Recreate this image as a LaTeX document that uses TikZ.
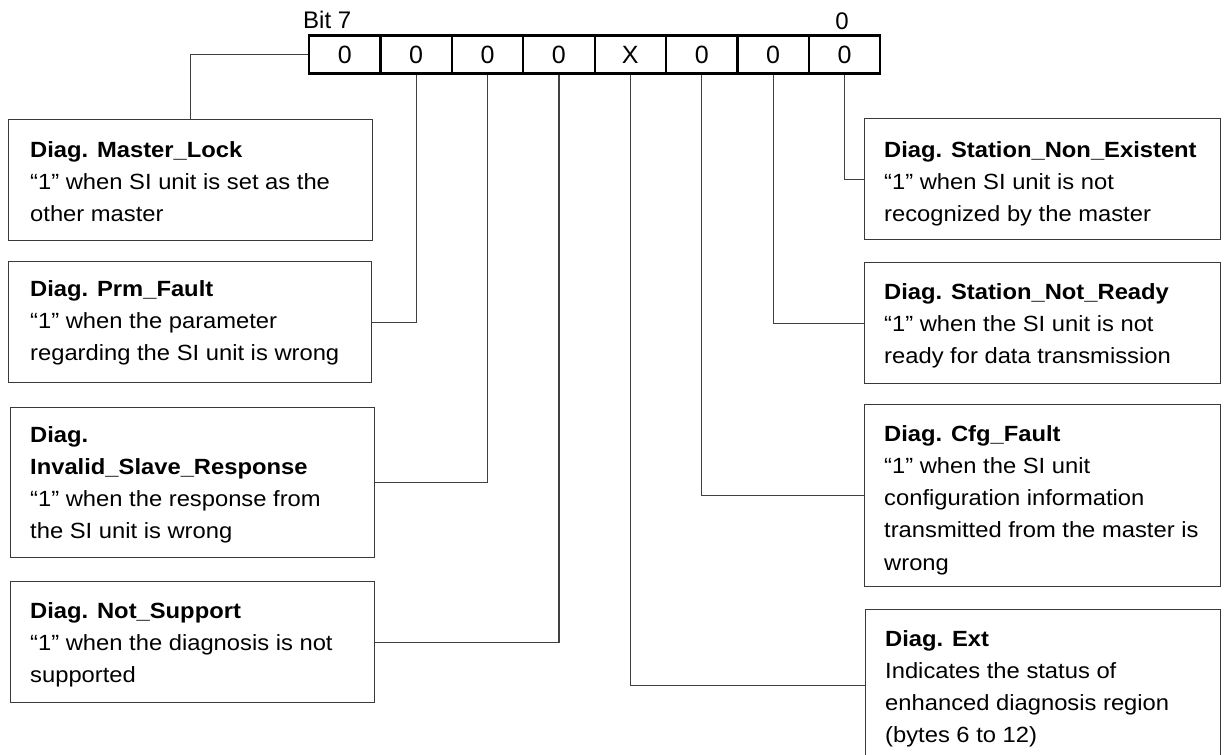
\documentclass[tikz,border=0pt]{standalone}
\usepackage{fontspec}
\setmainfont{Liberation Sans}[FakeStretch=1.08]
\newfontfamily\rowfont{Liberation Sans}
\definecolor{boxgray}{HTML}{3A3A3A}
\definecolor{linegray}{HTML}{404040}
\newcommand{\mydiagtext}[1]{\parbox[t]{345pt}{\fontsize{22}{32.3}\selectfont #1}}
\begin{document}
\begin{tikzpicture}[x=1pt,y=-1pt,
  cell/.style={draw=black, line width=2.2pt, minimum width=71.4pt, minimum height=38pt,
    inner sep=0pt, font=\rowfont\fontsize{25}{28}\selectfont},
  dbox/.style={draw=boxgray, line width=1.4pt, inner sep=0pt, anchor=north west},
  dtext/.style={anchor=base west, inner sep=0pt},
  toplabel/.style={anchor=base, inner sep=0pt, font=\rowfont\fontsize{24}{28}\selectfont},
  conn/.style={draw=linegray, line width=1.2pt}
]
\path[use as bounding box] (0,0) rectangle (1229,755);

% bit row
\foreach \i/\v in {1/0,2/0,3/0,4/0,5/X,6/0,7/0,8/0}{
  \node[cell] (c\i) at ({309+71.4*(\i-0.5)},54.5) {\v};
}
\node[toplabel, anchor=base west] (bit7) at (303,28.5) {Bit 7};
\node[toplabel] (bit0) at (842,29) {0};

% left boxes
\node[dbox, minimum width=364pt, minimum height=121pt] (ml) at (8,119) {};
\node[dtext] (mlt) at ([xshift=22pt,yshift=-38pt]ml.north west)
  {\mydiagtext{\textbf{Diag. Master\_Lock}\\“1” when SI unit is set as the\\other master}};

\node[dbox, minimum width=363pt, minimum height=121pt] (prm) at (8,261) {};
\node[dtext] (prmt) at ([xshift=22pt,yshift=-35pt]prm.north west)
  {\mydiagtext{\textbf{Diag. Prm\_Fault}\\“1” when the parameter\\regarding the SI unit is wrong}};

\node[dbox, minimum width=364pt, minimum height=150pt] (inv) at (10,407) {};
\node[dtext] (invt) at ([xshift=20pt,yshift=-35pt]inv.north west)
  {\mydiagtext{\textbf{Diag.}\\\textbf{Invalid\_Slave\_Response}\\“1” when the response from\\the SI unit is wrong}};

\node[dbox, minimum width=364pt, minimum height=121pt] (ns) at (10,581) {};
\node[dtext] (nst) at ([xshift=20pt,yshift=-37pt]ns.north west)
  {\mydiagtext{\textbf{Diag. Not\_Support}\\“1” when the diagnosis is not\\supported}};

% right boxes
\node[dbox, minimum width=356pt, minimum height=121pt] (ne) at (864,118) {};
\node[dtext] (net) at ([xshift=20pt,yshift=-39pt]ne.north west)
  {\mydiagtext{\textbf{Diag. Station\_Non\_Existent}\\“1” when SI unit is not\\recognized by the master}};

\node[dbox, minimum width=356pt, minimum height=121pt] (nr) at (864,262) {};
\node[dtext] (nrt) at ([xshift=20pt,yshift=-37pt]nr.north west)
  {\mydiagtext{\textbf{Diag. Station\_Not\_Ready}\\“1” when the SI unit is not\\ready for data transmission}};

\node[dbox, minimum width=356pt, minimum height=182pt] (cfg) at (864,404) {};
\node[dtext] (cfgt) at ([xshift=20pt,yshift=-37pt]cfg.north west)
  {\mydiagtext{\textbf{Diag. Cfg\_Fault}\\“1” when the SI unit\\configuration information\\transmitted from the master is\\wrong}};

\node[dbox, minimum width=355pt, minimum height=152pt] (ext) at (865,609) {};
\node[dtext] (extt) at ([xshift=20pt,yshift=-37pt]ext.north west)
  {\mydiagtext{\textbf{Diag. Ext}\\Indicates the status of\\enhanced diagnosis region\\(bytes 6 to 12)}};

% connectors
\draw[conn] (c1.west) -| (ml.north);
\draw[conn] (c2.south) |- (prm.east);
\draw[conn] (c3.south) |- (inv.east);
\draw[conn] (c4.south) |- (ns.east);
\draw[conn] (c5.south) |- (ext.west);
\draw[conn] (c6.south) |- (cfg.west);
\draw[conn] (c7.south) |- (nr.west);
\draw[conn] (c8.south) |- (ne.west);
\end{tikzpicture}
\end{document}
